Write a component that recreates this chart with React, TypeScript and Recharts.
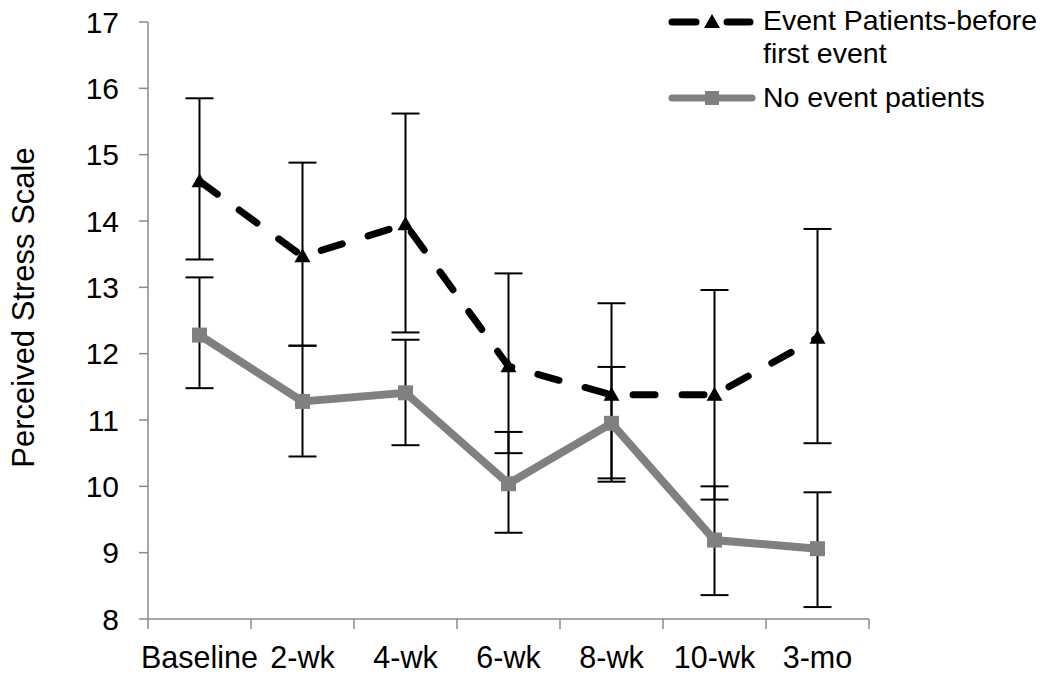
import React from "react";
import { ErrorBar, Line, LineChart, XAxis, YAxis } from "recharts";

const categories = ["Baseline", "2-wk", "4-wk", "6-wk", "8-wk", "10-wk", "3-mo"];

const eventMean = [14.6, 13.47, 13.95, 11.81, 11.38, 11.38, 12.24];
const eventHigh = [15.85, 14.88, 15.62, 13.21, 12.76, 12.96, 13.88];
const eventLow = [13.42, 12.12, 12.32, 10.5, 10.07, 9.8, 10.65];

const noEventMean = [12.28, 11.28, 11.41, 10.04, 10.95, 9.19, 9.06];
const noEventHigh = [13.15, 12.12, 12.21, 10.82, 11.8, 10.0, 9.91];
const noEventLow = [11.48, 10.45, 10.62, 9.3, 10.12, 8.36, 8.18];

const yTicks = [8, 9, 10, 11, 12, 13, 14, 15, 16, 17];

const data = categories.map((c, i) => ({
  c,
  ev: eventMean[i],
  evErr: [eventMean[i] - eventLow[i], eventHigh[i] - eventMean[i]],
  ne: noEventMean[i],
  neErr: [noEventMean[i] - noEventLow[i], noEventHigh[i] - noEventMean[i]],
}));

const FONT = "'Liberation Sans', Arial, sans-serif";
const AXIS = "#8a8a8a";
const GRAY = "#808080";
const W = 1050;
const H = 679;
const M = { top: 22, right: 181, left: 48, bottom: 0 };
const Y_W = 100;
// Excel-style category axis: points in the middle of each slot, ticks between
const BAND = (W - M.left - Y_W - M.right) / categories.length;

function Triangle({ cx, cy }: any) {
  if (cx == null || cy == null) return null;
  return <path d={`M${cx},${cy - 8} L${cx + 8},${cy + 6} L${cx - 8},${cy + 6} Z`} fill="#000" />;
}

function Square({ cx, cy }: any) {
  if (cx == null || cy == null) return null;
  return <rect x={cx - 7.5} y={cy - 7.5} width={15} height={15} fill={GRAY} />;
}

function XTick({ x, y, payload, index }: any) {
  const last = index === categories.length - 1;
  return (
    <g>
      <line x1={x - BAND / 2} x2={x - BAND / 2} y1={y} y2={y + 10} stroke={AXIS} strokeWidth={1.5} />
      {last && <line x1={x + BAND / 2} x2={x + BAND / 2} y1={y} y2={y + 10} stroke={AXIS} strokeWidth={1.5} />}
      <text x={x} y={y + 49} textAnchor="middle" fontSize={30.5} fill="#000" fontFamily={FONT}>
        {payload.value}
      </text>
    </g>
  );
}

function LegendBox() {
  const txt: React.CSSProperties = { fontSize: 28.5, fontFamily: FONT, color: "#000", lineHeight: "33px", whiteSpace: "nowrap" };
  return (
    <div style={{ position: "absolute", left: 666, top: 0, width: 384, height: 120 }}>
      <svg width={92} height={110} style={{ position: "absolute", left: 0, top: 0 }}>
        <line x1={6} x2={30} y1={22} y2={22} stroke="#000" strokeWidth={7} strokeLinecap="round" />
        <path d="M46,14 L54,28 L38,28 Z" fill="#000" />
        <line x1={61} x2={84} y1={22} y2={22} stroke="#000" strokeWidth={7} strokeLinecap="round" />
        <line x1={6} x2={86} y1={98} y2={98} stroke={GRAY} strokeWidth={7} strokeLinecap="round" />
        <rect x={39} y={91} width={14} height={14} fill={GRAY} />
      </svg>
      <div style={{ position: "absolute", left: 97, top: 4, ...txt }}>
        Event Patients-before
        <br />
        first event
      </div>
      <div style={{ position: "absolute", left: 97, top: 81, ...txt }}>No event patients</div>
    </div>
  );
}

function YTitle({ viewBox }: any) {
  const cx = viewBox.x - 25;
  const cy = viewBox.y + viewBox.height / 2 - 13;
  return (
    <text
      x={cx}
      y={cy}
      transform={`rotate(-90 ${cx} ${cy})`}
      textAnchor="middle"
      dominantBaseline="central"
      fontSize={31}
      fontFamily={FONT}
      fill="#000"
    >
      Perceived Stress Scale
    </text>
  );
}

export default function App() {
  return (
    <div style={{ position: "absolute", left: 0, top: 0, width: W, height: H, background: "#fff" }}>
      <LineChart width={W} height={H} data={data} margin={M}>
        <XAxis
          dataKey="c"
          interval={0}
          padding={{ left: BAND / 2, right: BAND / 2 }}
          tickLine={false}
          tickSize={0}
          tickMargin={0}
          height={60}
          stroke={AXIS}
          strokeWidth={1.5}
          tick={<XTick />}
        />
        <YAxis
          domain={[8, 17]}
          ticks={yTicks}
          width={Y_W}
          tickSize={9}
          tickMargin={20}
          stroke={AXIS}
          strokeWidth={1.5}
          tick={{ fontSize: 30, fill: "#000", fontFamily: FONT }}
          label={<YTitle />}
        />
        <Line
          dataKey="ne"
          stroke={GRAY}
          strokeWidth={8}
          dot={<Square />}
          activeDot={false}
          isAnimationActive={false}
        >
          <ErrorBar dataKey="neErr" direction="y" width={14} stroke="#000" strokeWidth={2} />
        </Line>
        <Line
          dataKey="ev"
          stroke="#000"
          strokeWidth={7}
          strokeDasharray="22 27"
          strokeLinecap="round"
          dot={<Triangle />}
          activeDot={false}
          isAnimationActive={false}
        >
          <ErrorBar dataKey="evErr" direction="y" width={14} stroke="#000" strokeWidth={2} />
        </Line>
      </LineChart>
      <LegendBox />
    </div>
  );
}
